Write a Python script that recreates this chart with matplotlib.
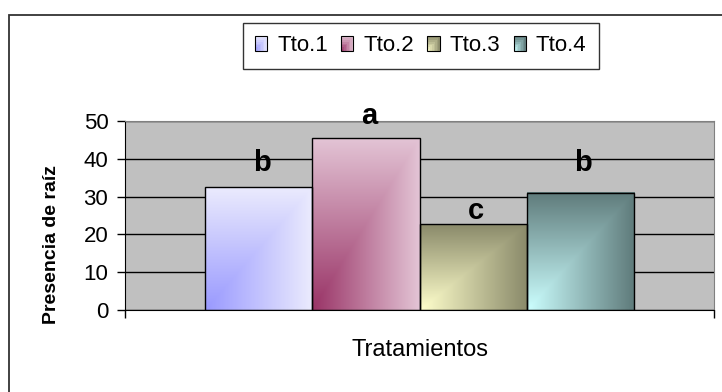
import numpy as np
import matplotlib.pyplot as plt
from matplotlib.patches import Rectangle, Patch
from matplotlib.legend_handler import HandlerBase
from matplotlib.colors import to_rgb

plt.rcParams['font.family'] = ['Liberation Sans', 'DejaVu Sans']

# Data
treatments = ['Tto.1', 'Tto.2', 'Tto.3', 'Tto.4']
presence = [32.5, 45.5, 22.7, 31.0]
letters = ['b', 'a', 'c', 'b']
letter_y = [36.8, 49.3, 24.2, 36.8]

# Gradient colours: bottom-left corner and the far edges of each bar
corner_colors = ['#9999ff', '#993366', '#ffffcc', '#ccffff']
far_colors = ['#ebebfd', '#e3c4d5', '#8a8a6a', '#5f7b7b']


def corner_gradient(c1, c2, nx=80, ny=160):
    # "from corner" fill: colour depends on max(x, y) measured from bottom-left
    u = np.linspace(0, 1, nx)
    v = np.linspace(1, 0, ny)  # image rows run top to bottom
    t = np.maximum(u[None, :], v[:, None])
    a, b = np.array(to_rgb(c1)), np.array(to_rgb(c2))
    return a + (b - a) * t[..., None]


class GradientHandler(HandlerBase):
    def __init__(self, c1, c2, n=8):
        super().__init__()
        self.c1, self.c2, self.n = np.array(to_rgb(c1)), np.array(to_rgb(c2)), n

    def create_artists(self, legend, orig_handle, xdescent, ydescent,
                       width, height, fontsize, trans):
        n = self.n
        x0, y0 = -xdescent, -ydescent
        w, h = width / n, height / n
        arts = []
        for i in range(n):
            for j in range(n):
                t = max((i + 0.5) / n, (j + 0.5) / n)
                col = self.c1 + (self.c2 - self.c1) * t
                arts.append(Rectangle((x0 + i * w, y0 + j * h), w, h,
                                      facecolor=col, edgecolor='none',
                                      transform=trans))
        arts.append(Rectangle((x0, y0), width, height, fill=False,
                              edgecolor='black', lw=0.8, transform=trans))
        return arts


fig = plt.figure(figsize=(7.22, 3.92), dpi=100)
fig.patch.set_facecolor('white')

# outer chart border
fig.patches.append(Rectangle((9 / 722, -0.1), 1.2, 0.1 + (392 - 15) / 392,
                             transform=fig.transFigure, fill=False,
                             edgecolor='#333333', lw=1.3))

ax = fig.add_axes([125 / 722, 82 / 392, 589 / 722, 189 / 392])
ax.set_facecolor('#c0c0c0')

width = 0.1817
xs = (np.arange(len(treatments)) - 1.5) * width
for x, val, c1, c2 in zip(xs, presence, corner_colors, far_colors):
    ax.imshow(corner_gradient(c1, c2), extent=(x - width / 2, x + width / 2, 0, val),
              aspect='auto', interpolation='bilinear', zorder=2)
ax.bar(xs, presence, width, fill=False, edgecolor='black', lw=1, zorder=3)

for x, txt, y in zip(xs, letters, letter_y):
    ax.text(x + 0.005, y, txt, ha='center', va='baseline', fontsize=21,
            fontweight='bold', zorder=4)

ax.set_xlim(-0.5, 0.5)
ax.set_ylim(0, 50)
ax.set_yticks(range(0, 51, 10))
ax.set_xticks([-0.5, 0.5])
ax.set_xticklabels([])
ax.tick_params(axis='y', direction='out', length=6, width=1, labelsize=16, pad=6)
ax.tick_params(axis='x', direction='out', length=6, width=1)
ax.set_axisbelow(True)
ax.yaxis.grid(True, color='black', lw=1)

for side in ['left', 'bottom']:
    ax.spines[side].set_color('black')
for side in ['top', 'right']:
    ax.spines[side].set_color('#808080')

fig.text(420 / 722, 1 - 350 / 392, 'Tratamientos', ha='center', va='center', fontsize=17)
fig.text(52 / 722, 1 - 244 / 392, 'Presencia de raíz', ha='center', va='center',
         rotation=90, fontsize=14, fontweight='bold')

handles = [Patch(label=t) for t in treatments]
hmap = {h: GradientHandler(c1, c2) for h, c1, c2 in zip(handles, corner_colors, far_colors)}
leg = fig.legend(handles, treatments, handler_map=hmap, loc='center',
                 bbox_to_anchor=(420.7 / 722, 1 - 45.85 / 392), ncol=4,
                 frameon=True, fancybox=False, edgecolor='black', fontsize=16,
                 handlelength=0.55, handleheight=0.65, handletextpad=0.45,
                 columnspacing=0.6, borderpad=0.55)
leg.get_frame().set_linewidth(1)

fig.savefig('out.png', dpi=100)
